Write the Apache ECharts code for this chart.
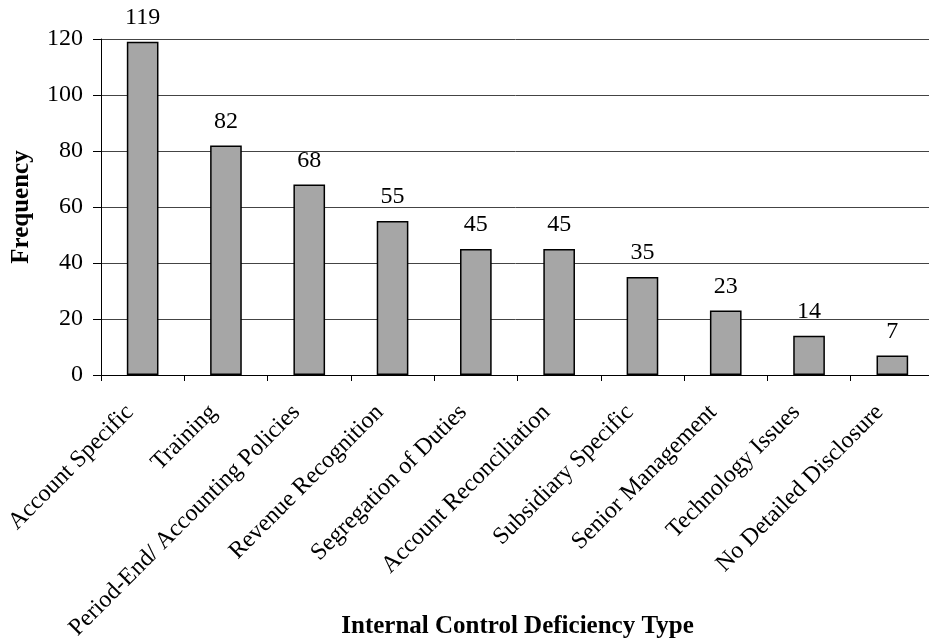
<!DOCTYPE html>
<html>
<head>
<meta charset="utf-8">
<script src="https://cdn.jsdelivr.net/npm/echarts@6/dist/echarts.min.js"></script>
<style>
  html, body { margin: 0; padding: 0; background: #fff; }
  #chart { width: 929px; height: 640px; }
</style>
</head>
<body>
<div id="chart"></div>
<script>
// categories and counts
var categories = ['Account Specific', 'Training', 'Period-End/ Accounting Policies',
  'Revenue Recognition', 'Segregation of Duties', 'Account Reconciliation',
  'Subsidiary Specific', 'Senior Management', 'Technology Issues', 'No Detailed Disclosure'];
var frequency = [119, 82, 68, 55, 45, 45, 35, 23, 14, 7];
var yTicks = [0, 20, 40, 60, 80, 100, 120];

var font = '"Liberation Serif", "Times New Roman", serif';

var chart = echarts.init(document.getElementById('chart'));

var option = {
  animation: false,
  textStyle: { fontFamily: font },
  grid: { left: 101, right: -5, top: 39, bottom: 265, containLabel: false, outerBoundsMode: 'none' },
  xAxis: {
    type: 'category',
    data: categories,
    name: 'Internal Control Deficiency Type',
    nameLocation: 'middle',
    nameGap: 239,
    nameMoveOverlap: false,
    nameTextStyle: { fontFamily: font, fontSize: 25, fontWeight: 'bold', color: '#000' },
    axisLine: { lineStyle: { color: '#000', width: 1 } },
    axisTick: { show: true, length: 6, lineStyle: { color: '#000' } },
    axisLabel: {
      rotate: 45,
      interval: 0,
      margin: 21,
      padding: [0, 18, 0, 0],
      fontFamily: font,
      fontSize: 24,
      color: '#000'
    }
  },
  yAxis: {
    type: 'value',
    min: yTicks[0],
    max: yTicks[yTicks.length - 1],
    interval: 20,
    name: 'Frequency',
    nameLocation: 'middle',
    nameGap: 67,
    nameTextStyle: { fontFamily: font, fontSize: 25, fontWeight: 'bold', color: '#000' },
    axisLine: { show: true, lineStyle: { color: '#000', width: 1 } },
    axisTick: { show: true, length: 8, lineStyle: { color: '#000' } },
    axisLabel: { margin: 18, fontFamily: font, fontSize: 24, color: '#000' },
    splitLine: { show: true, lineStyle: { color: '#444', width: 1 } }
  },
  series: [{
    type: 'bar',
    data: frequency,
    barWidth: '38%',
    itemStyle: { color: '#a6a6a6', borderColor: '#000', borderWidth: 1.5 },
    label: {
      show: true,
      position: 'top',
      distance: 12,
      fontFamily: font,
      fontSize: 24,
      color: '#000'
    }
  }]
};

chart.setOption(option);
</script>
</body>
</html>
